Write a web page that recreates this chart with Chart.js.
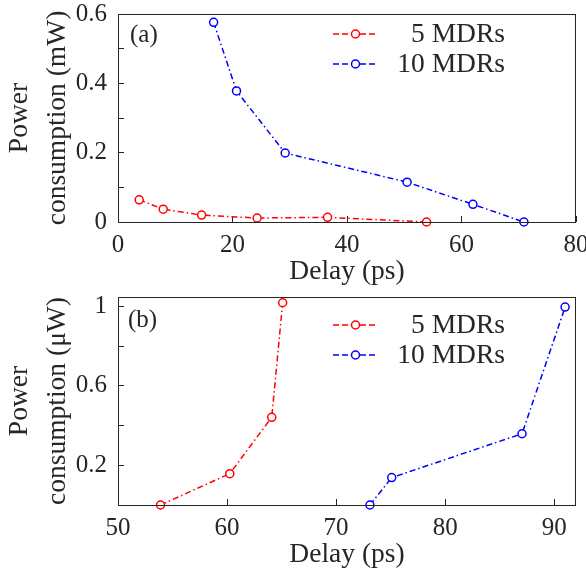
<!DOCTYPE html>
<html>
<head>
<meta charset="utf-8">
<script src="https://cdn.jsdelivr.net/npm/chart.js@4.4.1/dist/chart.umd.min.js"></script>
<style>
  body { margin: 0; background: #fff; }
  #wrap { position: relative; width: 586px; height: 574px; }
  #wrap canvas { position: absolute; left: 0; }
</style>
</head>
<body>
<div id="wrap">
  <canvas id="chartA" width="586" height="290" style="top:0"></canvas>
  <canvas id="chartB" width="586" height="284" style="top:290px"></canvas>
</div>
<script>
// panel (a): power in mW vs delay
const delayA5 = [3.7, 7.9, 14.6, 24.3, 36.6, 53.9];
const powerA5 = [0.064, 0.037, 0.020, 0.0115, 0.0135, 0];
const delayA10 = [16.7, 20.7, 29.2, 50.5, 62.0, 70.9];
const powerA10 = [0.576, 0.378, 0.199, 0.115, 0.051, 0];

// panel (b): power in uW vs delay
const delayB5 = [53.9, 60.25, 64.1, 65.1];
const powerB5 = [0, 0.158, 0.442, 1.019];
const delayB10 = [73.1, 75.1, 87.05, 91.0];
const powerB10 = [0, 0.138, 0.359, 0.997];

const seriesNames = ['  5 MDRs', '10 MDRs'];

const xTicksA = [0, 20, 40, 60, 80];
const xLabelsA = ['0', '20', '40', '60', '80'];
const yTicksA = [0, 0.1, 0.2, 0.3, 0.4, 0.5, 0.6];
const yLabelsA = ['0', '', '0.2', '', '0.4', '', '0.6'];

const xTicksB = [50, 60, 70, 80, 90];
const xLabelsB = ['50', '60', '70', '80', '90'];
const yTicksB = [0.2, 0.4, 0.6, 0.8, 1];
const yLabelsB = ['0.2', '', '0.6', '', '1'];

const serif = '"Liberation Serif", "Times New Roman", serif';
const ink = '#262626';
const RED = '#ff0000';
const BLUE = '#0000ff';

const toPoints = (xs, ys) => xs.map((x, i) => ({ x: x, y: ys[i] }));

function lineSet(label, xs, ys, color) {
  return {
    label: label,
    data: toPoints(xs, ys),
    borderColor: color,
    borderWidth: 1.5,
    borderDash: [6, 3, 1.5, 3],
    pointRadius: 4,
    pointBorderWidth: 1.5,
    pointBackgroundColor: '#fff',
    pointBorderColor: color,
    fill: false,
    tension: 0,
    clip: false
  };
}

// box around the axes, panel tag and the legend inside the plot
const panelDecor = {
  id: 'panelDecor',
  afterDraw(chart, args, opts) {
    const { ctx, chartArea: a } = chart;
    ctx.save();
    ctx.strokeStyle = ink;
    ctx.lineWidth = 1;
    ctx.setLineDash([]);
    ctx.strokeRect(a.left + 0.5, a.top + 0.5, a.right - a.left - 1, a.bottom - a.top);

    ctx.fillStyle = ink;
    ctx.textBaseline = 'middle';
    ctx.textAlign = 'left';
    ctx.font = '25px ' + serif;
    ctx.fillText(opts.tag, opts.tagX, opts.tagY);

    ctx.font = '27.5px ' + serif;
    chart.data.datasets.forEach((ds, i) => {
      const y = opts.legendY + i * 30;
      ctx.strokeStyle = ds.borderColor;
      ctx.lineWidth = 1.5;
      ctx.setLineDash([6, 3]);
      ctx.beginPath();
      ctx.moveTo(333, y);
      ctx.lineTo(378, y);
      ctx.stroke();
      ctx.setLineDash([]);
      ctx.beginPath();
      ctx.arc(355.5, y, 4, 0, Math.PI * 2);
      ctx.fillStyle = '#fff';
      ctx.fill();
      ctx.stroke();
      ctx.fillStyle = ink;
      ctx.textAlign = 'right';
      ctx.fillText(ds.label, 505, y + 1);
    });
    ctx.restore();
  }
};

function axis(cfg) {
  return {
    type: 'linear',
    position: cfg.position,
    min: cfg.min,
    max: cfg.max,
    afterBuildTicks: s => { s.ticks = cfg.values.map(v => ({ value: v })); },
    afterFit: s => {
      if (cfg.position === 'bottom') {
        s.height = cfg.size;
      } else {
        s.width = cfg.size;
      }
      s.paddingLeft = 0; s.paddingRight = 0;
      s.paddingTop = 0; s.paddingBottom = 0;
    },
    title: {
      display: true,
      text: cfg.title,
      color: ink,
      font: { family: serif, size: 27.5, lineHeight: cfg.titleLine || 1.2 },
      padding: cfg.titlePad
    },
    ticks: {
      color: ink,
      font: { family: serif, size: 25 },
      padding: cfg.tickPad,
      autoSkip: false,
      maxRotation: 0,
      callback: (v, i) => cfg.labels[i]
    },
    grid: {
      drawOnChartArea: false,
      drawTicks: true,
      tickLength: -6,
      color: ink,
      lineWidth: 1
    },
    border: { display: false }
  };
}

function makePanel(el, sets, opt) {
  return new Chart(el, {
    type: 'line',
    data: { datasets: sets },
    options: {
      responsive: false,
      animation: false,
      events: [],
      layout: { padding: { top: opt.top, right: 10, left: 0, bottom: 0 } },
      scales: {
        x: axis({
          position: 'bottom', min: opt.xMin, max: opt.xMax,
          values: opt.xTicks, labels: opt.xLabels, size: opt.xSize,
          title: 'Delay (ps)', titlePad: { top: 0, bottom: opt.xTitlePad }, tickPad: 14
        }),
        y: axis({
          position: 'left', min: opt.yMin, max: opt.yMax,
          values: opt.yTicks, labels: opt.yLabels, size: 118,
          title: ['Power', opt.yUnit], titleLine: 1.38,
          titlePad: { top: 1, bottom: 0 }, tickPad: 17
        })
      },
      plugins: {
        legend: { display: false },
        tooltip: { enabled: false },
        panelDecor: opt.decor
      }
    },
    plugins: [panelDecor]
  });
}

makePanel(document.getElementById('chartA'), [
  lineSet(seriesNames[0], delayA5, powerA5, RED),
  lineSet(seriesNames[1], delayA10, powerA10, BLUE)
], {
  top: 14, xSize: 68, xTitlePad: 1.5,
  xMin: 0, xMax: 80, xTicks: xTicksA, xLabels: xLabelsA,
  yMin: 0, yMax: 0.6, yTicks: yTicksA, yLabels: yLabelsA,
  yUnit: 'consumption (mW)',
  decor: { tag: '(a)', tagX: 130, tagY: 35, legendY: 34 }
});

makePanel(document.getElementById('chartB'), [
  lineSet(seriesNames[0], delayB5, powerB5, RED),
  lineSet(seriesNames[1], delayB10, powerB10, BLUE)
], {
  top: 7, xSize: 69, xTitlePad: 2.5,
  xMin: 50, xMax: 92, xTicks: xTicksB, xLabels: xLabelsB,
  yMin: 0, yMax: 1.048, yTicks: yTicksB, yLabels: yLabelsB,
  yUnit: 'consumption (\u03bcW)',
  decor: { tag: '(b)', tagX: 128, tagY: 30, legendY: 35 }
});
</script>
</body>
</html>
